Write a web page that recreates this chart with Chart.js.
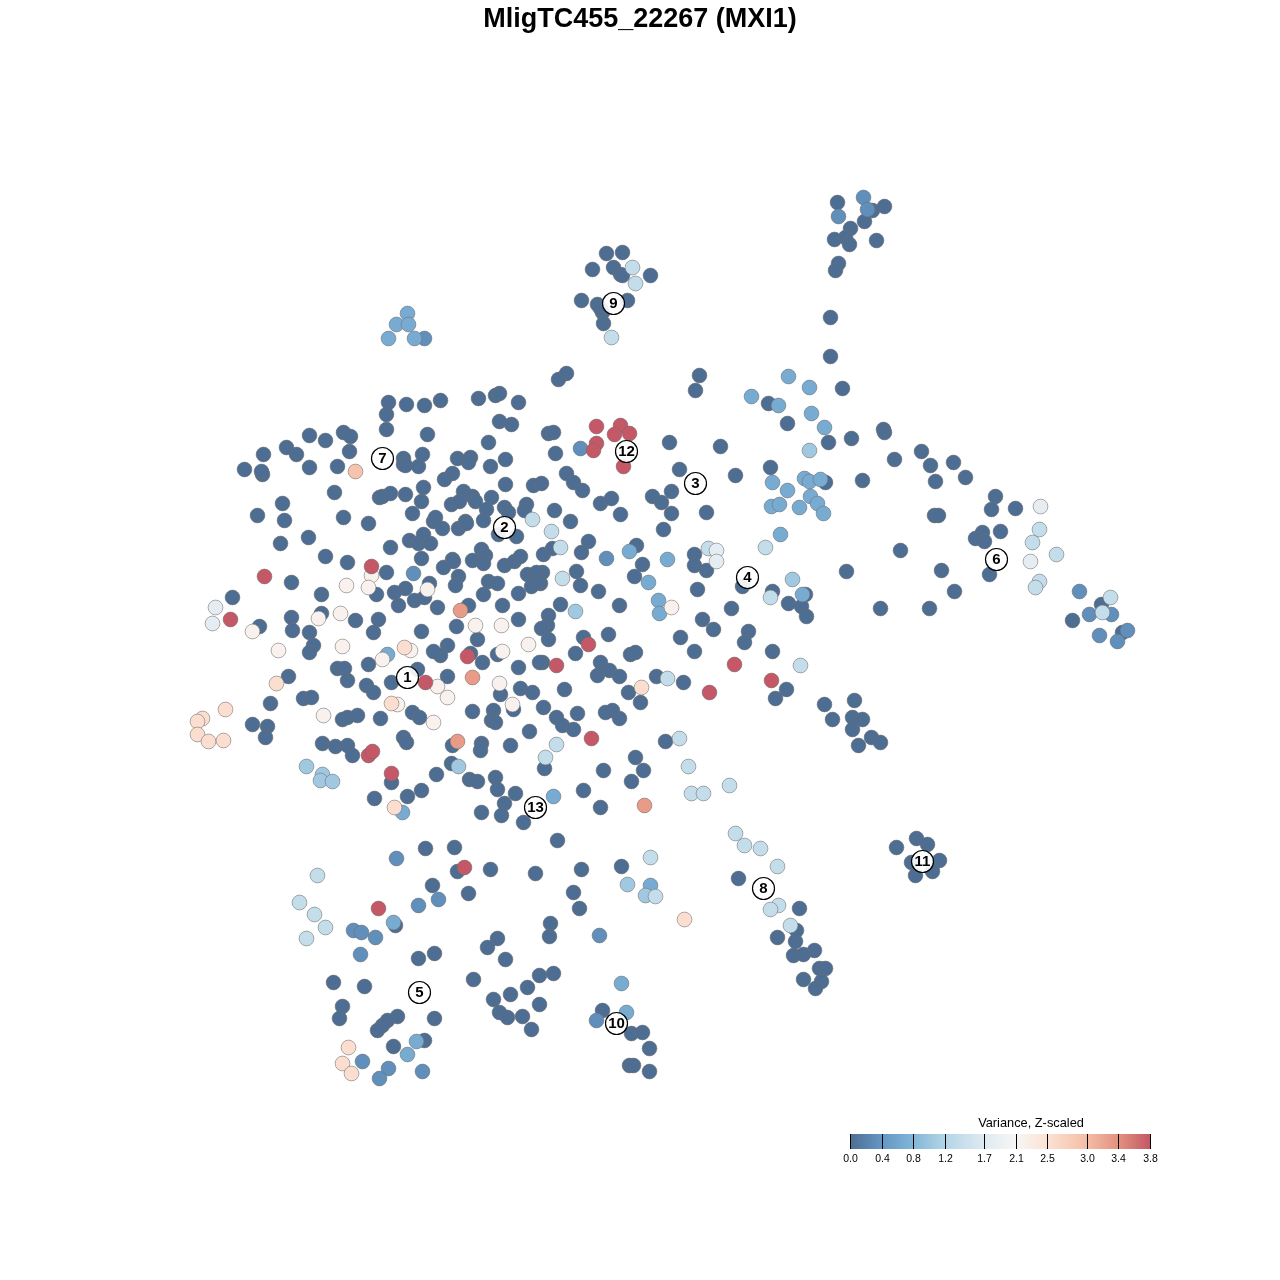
<!DOCTYPE html>
<html>
<head>
<meta charset="utf-8">
<style>html,body{margin:0;padding:0;background:#fff}canvas{display:block}</style>
<script src="https://cdn.jsdelivr.net/npm/chart.js@4/dist/chart.umd.min.js"></script>
</head>
<body>
<canvas id="c" width="1280" height="1280"></canvas>
<script>
const chartTitle = "MligTC455_22267 (MXI1)";
const legendTitle = "Variance, Z-scaled";
const legendTicks = [0.0,0.4,0.8,1.2,1.7,2.1,2.5,3.0,3.4,3.8];
const legendColors = ["#4E6D92","#6496C4","#82B6D8","#B2D5E6","#DFEAF2","#F7F6F5","#FCE2D4","#F5BDA4","#E3917F","#C45866"];

// embedding coordinates grouped by variance value
const var00 = [[837,202],[884,206],[872,210],[864,221],[850,228],[834,239],[845,237],[849,244],[876,240],[838,263],[835,270],[830,317],[830,356],[842,388],
[768,403],[787,423],[828,442],[851,438],[883,429],[884,432],[894,459],[921,451],[930,465],[953,462],[935,481],[965,477],[862,480],[770,467],[825,482],[995,496],[1015,508],[934,515],[938,515],[991,509],[982,532],[975,538],[984,541],[1000,531],[900,550],[989,574],[846,571],[941,570],[954,591],[880,608],[929,608],[1072,620],[1101,604],[1122,632],
[606,253],[622,252],[592,269],[613,267],[620,274],[622,275],[650,275],[581,300],[597,304],[602,312],[603,323],[627,300],[600,308],
[566,373],[558,379],[699,375],[695,390],[388,402],[406,404],[424,405],[440,400],[386,414],[386,429],[478,398],[495,395],[499,393],[518,402],[499,421],[511,424],[427,434],[488,442],[548,433],[553,432],[555,453],
[309,435],[325,440],[343,432],[350,436],[349,451],[286,447],[296,454],[263,454],[244,469],[262,474],[261,471],[309,467],[337,466],[403,458],[403,464],[405,465],[418,466],[422,454],[457,458],[470,457],[468,462],[452,473],[444,479],[490,466],[505,459],[505,484],[566,473],[533,485],[541,483],[573,482],[582,490],
[669,442],[720,446],[679,469],[735,475],[334,492],[379,497],[382,496],[390,493],[405,494],[423,487],[421,501],[463,491],[472,496],[451,504],[459,501],[475,501],[491,497],[504,507],[508,512],[486,509],[526,504],[524,510],[554,510],[600,503],[611,498],[652,496],[661,502],[671,491],[620,514],[671,513],[706,512],
[282,503],[257,515],[284,520],[343,517],[368,523],[412,513],[433,521],[435,517],[442,528],[458,528],[465,521],[466,523],[483,520],[498,534],[516,536],[570,521],[663,529],
[308,537],[280,543],[325,556],[347,562],[390,547],[409,540],[418,543],[423,534],[430,543],[421,558],[443,567],[452,559],[453,561],[472,560],[481,549],[485,555],[483,563],[504,565],[514,561],[520,556],[543,554],[552,548],[588,541],[581,552],[636,545],[642,564],[634,576],[694,554],[694,565],[706,570],[697,589],[731,608],[702,619],[713,629],[680,637],[694,651],
[619,605],[598,591],[580,585],[576,571],[542,572],[540,583],[560,604],[548,615],[547,625],[541,628],[548,639],[583,637],[575,653],[608,634],[630,654],[635,652],[600,662],[609,670],[597,675],[619,676],[542,662],[656,676],[683,682],
[386,572],[458,576],[455,585],[527,574],[536,572],[538,582],[531,586],[429,583],[405,588],[394,592],[376,594],[398,605],[414,600],[424,597],[437,607],[488,581],[497,583],[483,594],[518,593],[502,605],[468,605],[378,619],[373,632],[421,631],[456,626],[518,619],[477,639],[447,645],[440,655],[433,651],[368,664],[470,653],[482,662],[497,654],[518,667],[539,662],[447,676],[417,669],[391,682],
[291,582],[321,594],[232,597],[259,626],[291,617],[292,630],[321,613],[309,632],[313,645],[309,652],[355,620],[288,676],[337,668],[344,668],[347,680],[366,685],[373,692],[270,703],[303,698],[311,697],[252,724],[267,726],[265,737],[342,719],[347,717],[357,715],[380,718],[322,743],[335,746],[347,745],[352,755],[391,782],
[500,694],[520,688],[532,692],[564,689],[412,712],[419,717],[472,711],[493,710],[513,709],[543,707],[556,717],[562,725],[573,729],[577,713],[491,720],[495,722],[529,731],[403,737],[406,742],[452,745],[481,743],[480,750],[510,745],[544,768],[451,763],[436,774],[421,790],[407,796],[374,798],[469,779],[477,781],[495,777],[497,789],[515,793],[504,803],[481,812],[501,815],[523,822],[557,840],[583,790],
[742,586],[772,591],[788,603],[805,594],[801,606],[806,616],[748,631],[744,642],[772,651],[786,689],[775,698],[824,704],[854,700],[832,719],[852,717],[862,719],[852,729],[871,737],[880,742],[858,745],
[628,692],[640,702],[619,718],[612,710],[605,712],[665,741],[635,757],[643,770],[631,781],[603,770],[600,807],
[738,878],[799,908],[777,937],[795,941],[796,930],[814,950],[793,955],[803,954],[819,968],[825,968],[821,981],[803,979],[815,988],
[916,838],[927,844],[896,847],[911,862],[939,860],[915,875],[932,871],
[425,848],[454,847],[490,869],[457,871],[535,873],[581,869],[621,866],[573,892],[579,908],[432,885],[468,893],[395,925],[550,923],[549,936],[497,938],[487,947],[505,959],[418,958],[434,953],[473,979],[539,975],[553,973],[527,987],[333,982],[364,986],[342,1006],[339,1018],[493,999],[510,994],[539,1004],[499,1012],[507,1017],[522,1016],[531,1029],[434,1018],[397,1016],[387,1020],[382,1025],[377,1030],[602,1010],[631,1033],[642,1032],[649,1048],[629,1065],[633,1065],[649,1071],[393,1046],[424,1040]];
const var03 = [[863,197],[867,209],[838,216],[1079,591],[1089,614],[1111,614],[1099,635],[1127,630],[1117,641],[424,338],[580,448],[413,573],[606,558],[396,858],[438,899],[418,905],[353,930],[361,932],[375,937],[360,954],[599,935],[596,1020],[362,1061],[388,1068],[379,1078],[422,1071]];
const var06 = [[407,313],[396,324],[408,324],[388,338],[414,338],[788,376],[809,387],[751,396],[778,405],[811,413],[824,427],[772,482],[804,478],[809,481],[820,479],[787,490],[810,496],[817,503],[771,506],[779,504],[799,507],[823,513],[780,534],[629,551],[648,582],[667,559],[658,600],[659,613],[387,654],[402,812],[553,796],[802,594],[393,922],[650,885],[621,983],[626,1012],[416,1041],[407,1054]];
const var10 = [[575,611],[306,766],[322,774],[320,780],[332,781],[458,766],[792,579],[627,884],[645,895],[809,450]];
const var14 = [[1039,529],[1032,542],[1056,554],[1039,581],[1035,587],[1110,597],[1102,612],[632,267],[635,283],[611,337],[532,519],[551,531],[560,547],[562,578],[708,548],[765,547],[770,597],[556,744],[545,757],[800,665],[667,678],[679,738],[688,766],[729,785],[691,793],[703,793],[735,833],[744,845],[760,848],[777,866],[778,905],[770,909],[790,925],[650,857],[655,896],[317,875],[299,902],[314,914],[325,927],[306,938]];
const var18 = [[1040,506],[1030,561],[716,550],[716,561],[215,607],[212,623]];
const var22 = [[371,575],[368,587],[346,585],[427,589],[475,625],[501,625],[528,644],[502,651],[410,650],[382,659],[252,631],[318,618],[340,613],[278,650],[342,646],[323,715],[437,686],[447,697],[499,683],[397,704],[433,722],[512,704],[671,607]];
const var25 = [[404,647],[276,683],[225,709],[202,718],[197,721],[197,734],[208,741],[223,740],[391,703],[394,807],[641,687],[684,919],[348,1047],[342,1063],[351,1073]];
const var29 = [[355,471]];
const var33 = [[460,610],[472,677],[457,741],[644,805]];
const var38 = [[596,426],[620,425],[614,434],[629,433],[596,443],[593,450],[623,466],[371,566],[264,576],[230,619],[467,656],[425,682],[556,665],[588,644],[734,664],[771,680],[709,692],[591,738],[368,755],[372,751],[391,773],[464,867],[378,908]];

const clusterIds = ["1","2","3","4","5","6","7","8","9","10","11","12","13"];
const clusterX = [407,504,695,747,419,996,382,763,613,616,922,626,535];
const clusterY = [677,527,483,577,992,559,458,888,303,1023,861,451,807];

const varianceGroups = [[0.0,var00],[0.33,var03],[0.66,var06],[1.05,var10],[1.4,var14],[1.8,var18],[2.2,var22],[2.55,var25],[2.9,var29],[3.3,var33],[3.8,var38]];

function hex(c){return [1,3,5].map(i=>parseInt(c.substr(i,2),16));}
function rampColor(v){
  for(let i=1;i<legendTicks.length;i++){
    if(v<=legendTicks[i]){
      const t=(v-legendTicks[i-1])/(legendTicks[i]-legendTicks[i-1]);
      const a=hex(legendColors[i-1]),b=hex(legendColors[i]);
      return `rgb(${a.map((x,k)=>Math.round(x+(b[k]-x)*t)).join(",")})`;
    }
  }
  return legendColors[legendColors.length-1];
}

const scatterData=[];
varianceGroups.forEach(([v,pts])=>pts.forEach(p=>scatterData.push({x:p[0],y:p[1],v})));
const clusterData=clusterIds.map((id,i)=>({x:clusterX[i],y:clusterY[i],id}));

const overlay={
  id:"overlay",
  afterDatasetsDraw(chart){
    const {ctx}=chart;
    const meta=chart.getDatasetMeta(0);
    ctx.save();
    ctx.textAlign="center";ctx.textBaseline="middle";ctx.fillStyle="#000";
    ctx.font='bold 15px "Liberation Sans"';
    meta.data.forEach((el,i)=>ctx.fillText(clusterIds[i],el.x,el.y+0.5));
    // colour bar
    const x0=850,w=300,y0=1134,h=15;
    const pos=v=>x0+v/3.8*w;
    const g=ctx.createLinearGradient(x0,0,x0+w,0);
    legendTicks.forEach((v,i)=>g.addColorStop(v/3.8,legendColors[i]));
    ctx.fillStyle=g;ctx.fillRect(x0,y0,w,h);
    ctx.strokeStyle="#000";ctx.lineWidth=1;
    ctx.fillStyle="#000";
    ctx.font='10.5px "Liberation Sans"';
    legendTicks.forEach(v=>{
      const x=Math.round(pos(v))+0.5;
      ctx.beginPath();ctx.moveTo(x,y0);ctx.lineTo(x,y0+h);ctx.stroke();
      ctx.fillText(v.toFixed(1),x,1159.5);
    });
    ctx.font='12.8px "Liberation Sans"';
    ctx.fillText(legendTitle,1031,1123);
    ctx.restore();
  }
};

new Chart(document.getElementById("c"),{
  type:"scatter",
  data:{datasets:[
    {label:"clusters",data:clusterData,order:0,pointRadius:11,pointHoverRadius:11,
     backgroundColor:"rgba(255,255,255,0.9)",borderColor:"#000",borderWidth:1.2},
    {label:"genes",data:scatterData,order:1,pointRadius:7.4,pointHoverRadius:7.4,
     backgroundColor:ctx=>rampColor(ctx.raw?ctx.raw.v:0),
     borderColor:"rgba(110,110,110,0.55)",borderWidth:1}
  ]},
  options:{
    responsive:false,animation:false,
    events:[],
    layout:{padding:0,autoPadding:false},
    plugins:{
      legend:{display:false},tooltip:{enabled:false},
      title:{display:true,text:chartTitle,color:"#000",
        font:{family:'"Liberation Sans"',size:27,weight:"bold",lineHeight:1.2},
        padding:{top:3,bottom:0.6}}
    },
    scales:{
      x:{type:"linear",min:-0.5,max:1279.5,display:false},
      y:{type:"linear",min:35.5,max:1279.5,reverse:true,display:false}
    }
  },
  plugins:[overlay]
});
</script>
</body>
</html>
